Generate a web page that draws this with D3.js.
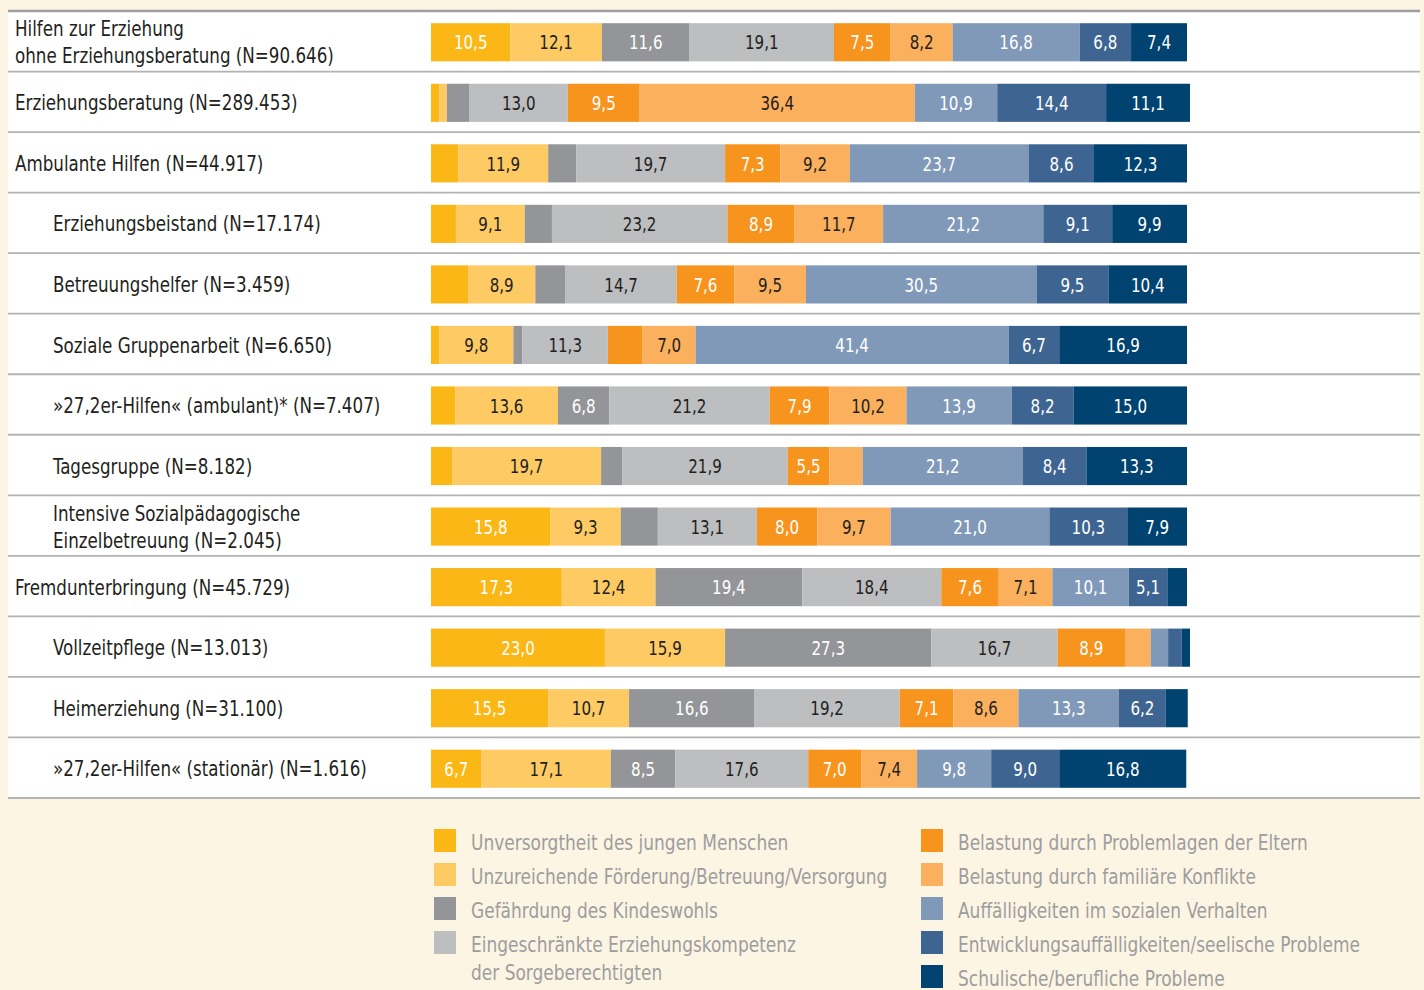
<!DOCTYPE html>
<html>
<head>
<meta charset="utf-8">
<script src="https://cdn.jsdelivr.net/npm/d3@7"></script>
<style>
  html, body { margin: 0; padding: 0; background: #fdf5e3; }
  svg { display: block; }
  text { font-family: "DejaVu Sans Condensed", "DejaVu Sans", sans-serif; font-stretch: condensed; }
</style>
</head>
<body>
<svg width="1424" height="990"></svg>
<script>
// Row labels (one entry per line) and their indent level
var rows = [
  ["Hilfen zur Erziehung", "ohne Erziehungsberatung (N=90.646)"],
  ["Erziehungsberatung (N=289.453)"],
  ["Ambulante Hilfen (N=44.917)"],
  ["Erziehungsbeistand (N=17.174)"],
  ["Betreuungshelfer (N=3.459)"],
  ["Soziale Gruppenarbeit (N=6.650)"],
  ["»27,2er-Hilfen« (ambulant)* (N=7.407)"],
  ["Tagesgruppe (N=8.182)"],
  ["Intensive Sozialpädagogische", "Einzelbetreuung (N=2.045)"],
  ["Fremdunterbringung (N=45.729)"],
  ["Vollzeitpflege (N=13.013)"],
  ["Heimerziehung (N=31.100)"],
  ["»27,2er-Hilfen« (stationär) (N=1.616)"]
];
var levels = [0, 0, 0, 1, 1, 1, 1, 1, 1, 0, 1, 1, 1];

// Series (legend) labels
var series = [
  ["Unversorgtheit des jungen Menschen"],
  ["Unzureichende Förderung/Betreuung/Versorgung"],
  ["Gefährdung des Kindeswohls"],
  ["Eingeschränkte Erziehungskompetenz", "der Sorgeberechtigten"],
  ["Belastung durch Problemlagen der Eltern"],
  ["Belastung durch familiäre Konflikte"],
  ["Auffälligkeiten im sozialen Verhalten"],
  ["Entwicklungsauffälligkeiten/seelische Probleme"],
  ["Schulische/berufliche Probleme"]
];

// Percentages per series, in row order
var unversorgtheit = [10.5, 1.1, 3.6, 3.3, 4.9, 1.1, 3.2, 2.8, 15.8, 17.3, 23.0, 15.5, 6.7];
var foerderung     = [12.1, 1.0, 11.9, 9.1, 8.9, 9.8, 13.6, 19.7, 9.3, 12.4, 15.9, 10.7, 17.1];
var gefaehrdung    = [11.6, 3.0, 3.7, 3.6, 4.0, 1.2, 6.8, 2.8, 4.9, 19.4, 27.3, 16.6, 8.5];
var kompetenz      = [19.1, 13.0, 19.7, 23.2, 14.7, 11.3, 21.2, 21.9, 13.1, 18.4, 16.7, 19.2, 17.6];
var eltern         = [7.5, 9.5, 7.3, 8.9, 7.6, 4.6, 7.9, 5.5, 8.0, 7.6, 8.9, 7.1, 7.0];
var konflikte      = [8.2, 36.4, 9.2, 11.7, 9.5, 7.0, 10.2, 4.4, 9.7, 7.1, 3.4, 8.6, 7.4];
var sozial         = [16.8, 10.9, 23.7, 21.2, 30.5, 41.4, 13.9, 21.2, 21.0, 10.1, 2.3, 13.3, 9.8];
var entwicklung    = [6.8, 14.4, 8.6, 9.1, 9.5, 6.7, 8.2, 8.4, 10.3, 5.1, 1.8, 6.2, 9.0];
var schule         = [7.4, 11.1, 12.3, 9.9, 10.4, 16.9, 15.0, 13.3, 7.9, 2.6, 1.1, 2.9, 16.8];

var values = [unversorgtheit, foerderung, gefaehrdung, kompetenz, eltern, konflikte, sozial, entwicklung, schule];

var colors = ["#fbb716", "#fdca64", "#939598", "#bcbec0", "#f7941e", "#fbb05e", "#8199b8", "#3e6592", "#004370"];
var textColors = ["#fff", "#231f20", "#fff", "#231f20", "#fff", "#231f20", "#fff", "#fff", "#fff"];

var svg = d3.select("svg");

// build table for the stack
var keys = d3.range(series.length);
var table = rows.map(function(r, i) {
  var o = {row: i};
  keys.forEach(function(k) { o[k] = values[k][i]; });
  return o;
});
var stacked = d3.stack().keys(keys)(table);

var x = d3.scaleLinear().domain([0, 100]).range([431, 1187]);
var y = d3.scaleBand().domain(d3.range(rows.length)).range([12, 799])
    .paddingInner(0.37).paddingOuter(0.185);

var fmt = d3.formatLocale({decimal: ",", thousands: ".", grouping: [3], currency: ["", "€"]}).format(".1f");

// white panel
svg.append("rect")
    .attr("x", 8).attr("y", 10)
    .attr("width", 1412).attr("height", 789)
    .attr("fill", "#fff");

// separator lines
var step = y.step();
svg.append("g").selectAll("line")
  .data(d3.range(rows.length + 1))
  .enter().append("line")
    .attr("x1", 8).attr("x2", 1420)
    .attr("y1", function(i) { return 11 + i * step; })
    .attr("y2", function(i) { return 11 + i * step; })
    .attr("stroke", function(i) { return i === 0 ? "#9d9d9d" : "#b3b3b3"; })
    .attr("stroke-width", function(i) { return i === 0 ? 2.5 : 1.8; });

// bars
var layer = svg.append("g").selectAll("g")
  .data(stacked)
  .enter().append("g")
    .attr("fill", function(d) { return colors[d.key]; });

layer.selectAll("rect")
  .data(function(d) { return d; })
  .enter().append("rect")
    .attr("x", function(d) { return x(d[0]); })
    .attr("y", function(d) { return y(d.data.row); })
    .attr("width", function(d) { return x(d[1]) - x(d[0]); })
    .attr("height", y.bandwidth());

// value labels (only on segments of 5 % or more), squeezed to look condensed
layer.each(function(s) {
  d3.select(this).selectAll("text")
    .data(s.filter(function(d) { return d[1] - d[0] >= 5; }))
    .enter().append("text")
      .attr("transform", function(d) {
        return "translate(" + (x(d[0]) + x(d[1])) / 2 + "," + (y(d.data.row) + y.bandwidth() / 2) + ") scale(0.84,1)";
      })
      .attr("dy", "0.36em")
      .attr("text-anchor", "middle")
      .attr("font-size", "20px")
      .attr("fill", textColors[s.key])
      .text(function(d) { return fmt(d[1] - d[0]); });
});

// row labels
var labels = svg.append("g").selectAll("text")
  .data(rows)
  .enter().append("text")
    .attr("font-size", "21px")
    .attr("fill", "#231f20")
    .attr("transform", function(d, i) {
      return "translate(" + (levels[i] ? 53 : 15) + "," + (y(i) + y.bandwidth() / 2) + ") scale(0.885,1)";
    });

labels.selectAll("tspan")
  .data(function(d) { return d.map(function(t, j) { return {t: t, j: j, n: d.length}; }); })
  .enter().append("tspan")
    .attr("x", 0)
    .attr("y", function(d) { return (d.j - (d.n - 1) / 2) * 27; })
    .attr("dy", "0.36em")
    .text(function(d) { return d.t; });

// legend
var legend = svg.append("g").selectAll("g")
  .data(series)
  .enter().append("g")
    .attr("transform", function(d, i) {
      var col = i < 4 ? 0 : 1, r = i < 4 ? i : i - 4;
      return "translate(" + (col ? 921 : 434) + "," + (829 + r * 34) + ")";
    });

legend.append("rect")
    .attr("width", 22).attr("height", 23)
    .attr("fill", function(d, i) { return colors[i]; });

legend.append("text")
    .attr("font-size", "21px")
    .attr("fill", "#9d9d9f")
    .attr("transform", "translate(37,0) scale(0.9,1)")
  .selectAll("tspan")
  .data(function(d) { return d; })
  .enter().append("tspan")
    .attr("x", 0)
    .attr("y", function(d, j) { return 13 + j * 28; })
    .attr("dy", "0.36em")
    .text(function(d) { return d; });
</script>
</body>
</html>
